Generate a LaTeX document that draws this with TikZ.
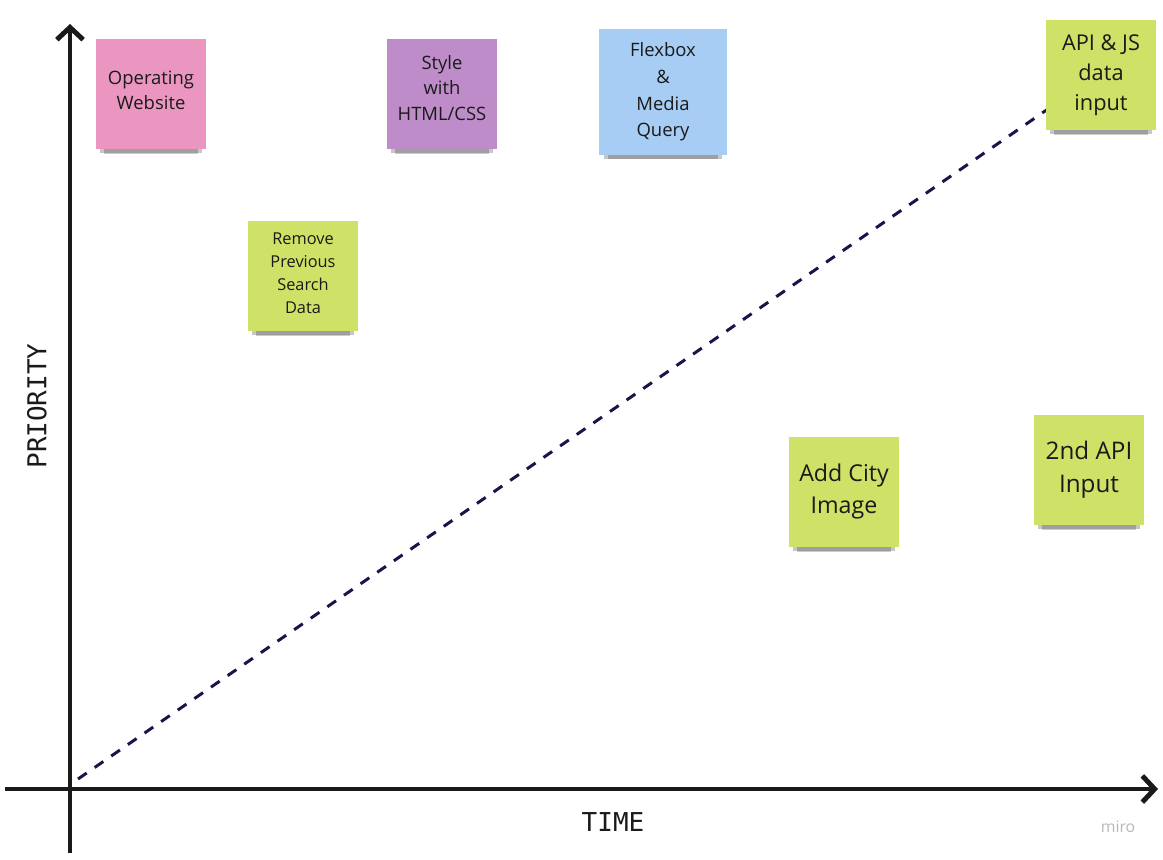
\documentclass[tikz,border=0pt]{standalone}
\usepackage{fontspec}
\setmainfont{Open Sans}
\setmonofont{DejaVu Sans Mono}
\usetikzlibrary{positioning, arrows.meta, shadows}
\definecolor{notePink}{HTML}{EA96C0}
\definecolor{notePurple}{HTML}{BE8CC9}
\definecolor{noteBlue}{HTML}{A8CDF4}
\definecolor{noteLime}{HTML}{CFE166}
\definecolor{trendNavy}{HTML}{16164A}
\definecolor{axisInk}{HTML}{1A1A1A}

\begin{document}
\begin{tikzpicture}[
		x=0.02cm, y=-0.02cm,
		note/.style={rectangle, minimum width=2.2cm, minimum height=2.2cm,
			align=center, inner sep=0pt, text=axisInk,
			drop shadow={shadow xshift=0pt, shadow yshift=-8.5pt, shadow scale=0.86, opacity=0.2, fill=black},
			drop shadow={shadow xshift=0pt, shadow yshift=-5.5pt, shadow scale=0.92, opacity=0.22, fill=black}},
		pinknote/.style={note, fill=notePink, font=\fontsize{10.5}{14.2}\selectfont, text depth=4.6pt},
		purplenote/.style={note, fill=notePurple, font=\fontsize{10.5}{14.4}\selectfont, text depth=7pt},
		bluenote/.style={note, fill=noteBlue, minimum width=2.56cm, minimum height=2.54cm,
			font=\fontsize{10.5}{15.2}\selectfont},
		limenote/.style={note, fill=noteLime},
		axis/.style={line width=2.8pt, draw=axisInk, -{Straight Barb[length=7pt, width=15pt]}},
		trend/.style={line width=1.7pt, draw=trendNavy, dash pattern=on 6pt off 5.5pt},
		axislabel/.style={font=\ttfamily\fontsize{14.8}{17}\selectfont, text=axisInk},
		]
		\useasboundingbox (0,0) rectangle (1163,859);
		
		% axes
		\coordinate (origin) at (70,789);
		\coordinate (xend) at (1158,789);
		\coordinate (yend) at (70,24);
		\coordinate (xstart) at (5,789);
		\coordinate (ystart) at (70,853);
		\draw[axis] (xstart) -- (xend);
		\draw[axis] (ystart) -- (yend);
		
		% priority over time
		\coordinate (trendA) at (78,779);
		\coordinate (trendB) at (1158,33);
		\draw[trend] (trendA) -- (trendB);
		
		\node[axislabel, rotate=90] (priority) at (37,406) {PRIORITY};
		\node[axislabel] (time) at (613,822) {TIME};
		\node[font=\fontsize{9}{11}\selectfont, text=black!28] (brand) at (1118,827) {miro};
		
		% sticky notes
		\node[pinknote] (website) at (151,94) {Operating\\Website};
		\node[purplenote] (style) at (442,94) {Style\\with\\HTML/CSS};
		\node[bluenote] (flexbox) at (663,92) {Flexbox\\\&\\Media\\Query};
		\node[limenote, font=\fontsize{12.4}{17}\selectfont] (apidata) at (1101,75) {API \& JS\\data\\input};
		\node[limenote, font=\fontsize{9.3}{13}\selectfont, text depth=3.4pt] (remove) at (303,276) {Remove\\Previous\\Search\\Data};
		\node[limenote, font=\fontsize{13.2}{18}\selectfont, text depth=4pt] (cityimg) at (844,492) {Add City\\Image};
		\node[limenote, font=\fontsize{13.8}{19}\selectfont] (secondapi) at (1089,470) {2nd API\\Input};
	\end{tikzpicture}
\end{document}
